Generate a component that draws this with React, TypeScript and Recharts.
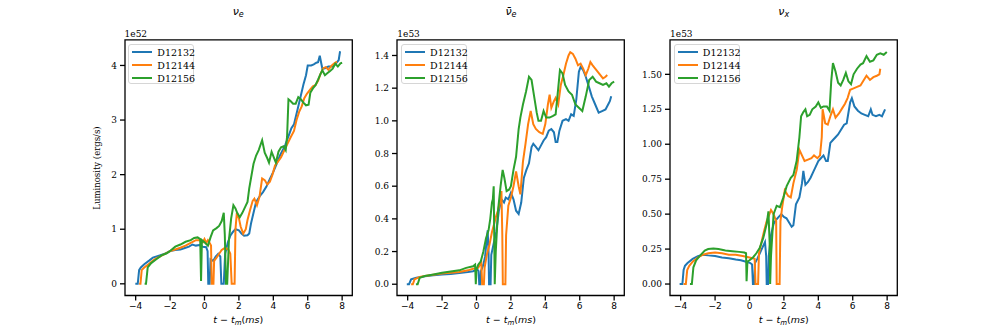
import React from 'react';
import { LineChart, Line, XAxis, YAxis, ReferenceArea } from 'recharts';

type Pt = [number, number];

const seriesNames = ['D12132', 'D12144', 'D12156'];
const seriesColors = ['#1f77b4', '#ff7f0e', '#2ca02c'];
const xTicks = [-4, -2, 0, 2, 4, 6, 8];
const xDomain: [number, number] = [-4.62, 8.59];

// nu_e luminosity (units of 1e52 erg/s)
const nueD12132: Pt[] = [[-4.02,0],[-3.88,0],[-3.8,0.25],[-3.7,0.3],[-3.5,0.36],[-3.2,0.43],[-3.0,0.48],[-2.6,0.52],[-2.3,0.55],[-2.0,0.6],[-1.7,0.62],[-1.4,0.63],[-1.1,0.66],[-0.9,0.68],[-0.7,0.72],[-0.5,0.7],[-0.3,0.71],[-0.1,0.68],[0.1,0.67],[0.18,0.6],[0.22,0],[0.3,0],[0.35,0.45],[0.5,0.42],[0.65,0.5],[0.8,0.55],[0.92,0.5],[0.98,0],[1.12,0],[1.2,0.55],[1.35,0.75],[1.5,0.88],[1.65,0.95],[1.8,1.0],[2.0,0.98],[2.15,0.92],[2.3,0.88],[2.5,0.89],[2.6,0.92],[2.7,1.1],[2.85,1.3],[3.0,1.5],[3.2,1.6],[3.4,1.68],[3.6,1.78],[3.8,1.92],[4.0,2.05],[4.2,2.2],[4.4,2.36],[4.55,2.45],[4.7,2.55],[4.9,2.72],[5.05,2.85],[5.2,2.92],[5.3,3.05],[5.45,3.25],[5.6,3.45],[5.75,3.65],[5.9,3.82],[6.0,4.0],[6.2,4.0],[6.35,4.02],[6.5,4.05],[6.6,4.06],[6.7,4.18],[6.78,4.05],[6.85,3.94],[7.0,3.95],[7.2,3.98],[7.4,3.98],[7.55,4.02],[7.7,4.06],[7.8,4.1],[7.88,4.26]];
const nueD12144: Pt[] = [[-3.8,0],[-3.72,0],[-3.65,0.25],[-3.5,0.3],[-3.2,0.37],[-2.9,0.45],[-2.6,0.5],[-2.3,0.55],[-2.0,0.6],[-1.7,0.63],[-1.4,0.66],[-1.1,0.7],[-0.8,0.75],[-0.5,0.8],[-0.3,0.8],[-0.1,0.76],[0.0,0.82],[0.1,0.75],[0.2,0.8],[0.3,0.75],[0.38,0.7],[0.42,0],[0.52,0],[0.56,0.42],[0.7,0.48],[0.85,0.55],[1.0,0.62],[1.2,0.66],[1.4,0.62],[1.5,0.55],[1.58,0],[1.75,0],[1.8,1.0],[1.88,1.3],[2.0,1.2],[2.1,1.05],[2.25,0.92],[2.4,1.0],[2.5,1.17],[2.65,1.35],[2.8,1.52],[2.9,1.56],[3.05,1.44],[3.2,1.6],[3.35,1.93],[3.5,1.9],[3.65,1.82],[3.8,1.87],[3.95,2.0],[4.1,2.17],[4.3,2.25],[4.45,2.32],[4.6,2.42],[4.8,2.55],[5.0,2.68],[5.2,2.8],[5.35,3.0],[5.5,3.15],[5.65,3.25],[5.8,3.4],[5.95,3.48],[6.15,3.56],[6.3,3.62],[6.45,3.64],[6.6,3.72],[6.75,3.85],[6.9,3.95],[7.05,3.97],[7.2,3.92],[7.4,4.0],[7.55,4.04],[7.7,4.07]];
const nueD12156: Pt[] = [[-3.48,0],[-3.4,0],[-3.3,0.3],[-3.1,0.38],[-2.8,0.45],[-2.5,0.52],[-2.2,0.56],[-2.0,0.6],[-1.7,0.68],[-1.4,0.72],[-1.1,0.77],[-0.8,0.8],[-0.6,0.84],[-0.4,0.85],[-0.25,0.82],[-0.2,0.05],[-0.15,0.8],[0.0,0.76],[0.2,0.7],[0.35,0.85],[0.5,0.98],[0.7,1.02],[0.85,1.06],[1.0,1.15],[1.12,1.3],[1.18,0.9],[1.25,0],[1.32,0],[1.42,0.8],[1.55,1.2],[1.68,1.44],[1.8,1.38],[1.9,1.3],[2.05,1.22],[2.2,1.3],[2.35,1.4],[2.5,1.5],[2.6,1.75],[2.7,1.93],[2.85,2.2],[3.0,2.35],[3.15,2.45],[3.35,2.63],[3.5,2.4],[3.65,2.3],[3.75,2.22],[3.9,2.42],[4.05,2.3],[4.15,2.22],[4.3,2.42],[4.45,2.5],[4.6,2.52],[4.72,2.45],[4.8,2.7],[4.88,3.38],[5.0,3.35],[5.15,3.3],[5.3,3.3],[5.45,3.42],[5.6,3.38],[5.75,3.32],[5.9,3.27],[6.05,3.28],[6.15,3.5],[6.3,3.58],[6.45,3.64],[6.6,3.74],[6.75,3.85],[6.85,3.91],[7.0,3.82],[7.15,3.86],[7.3,3.9],[7.45,3.94],[7.6,4.03],[7.75,3.98],[7.9,4.04],[8.0,4.05]];

// anti nu_e luminosity (units of 1e53 erg/s)
const anueD12132: Pt[] = [[-4.05,0],[-3.92,0],[-3.8,0.03],[-3.5,0.04],[-3.0,0.048],[-2.5,0.055],[-2.0,0.06],[-1.5,0.062],[-1.0,0.068],[-0.5,0.075],[-0.2,0.08],[0.05,0.09],[0.12,0.08],[0.16,0],[0.22,0],[0.26,0.08],[0.4,0.12],[0.5,0.17],[0.6,0.28],[0.65,0.33],[0.7,0.2],[0.73,0],[0.82,0],[0.86,0.18],[1.0,0.25],[1.15,0.32],[1.3,0.45],[1.45,0.52],[1.6,0.5],[1.7,0.53],[1.85,0.52],[2.0,0.56],[2.15,0.52],[2.3,0.45],[2.45,0.43],[2.6,0.5],[2.75,0.65],[2.9,0.7],[3.05,0.74],[3.2,0.84],[3.3,0.86],[3.45,0.84],[3.6,0.82],[3.75,0.85],[3.9,0.88],[4.05,0.9],[4.2,0.94],[4.35,0.95],[4.5,0.93],[4.6,0.87],[4.7,0.87],[4.82,0.94],[5.0,1.0],[5.2,1.01],[5.35,1.0],[5.5,1.04],[5.65,1.03],[5.8,1.13],[5.95,1.3],[6.05,1.33],[6.2,1.31],[6.35,1.27],[6.5,1.22],[6.7,1.15],[6.9,1.1],[7.1,1.05],[7.3,1.06],[7.5,1.07],[7.65,1.1],[7.75,1.12],[7.83,1.15]];
const anueD12144: Pt[] = [[-3.8,0],[-3.7,0],[-3.6,0.03],[-3.3,0.045],[-3.0,0.05],[-2.5,0.058],[-2.0,0.065],[-1.5,0.07],[-1.0,0.075],[-0.5,0.085],[-0.2,0.095],[0.1,0.1],[0.2,0.12],[0.28,0.13],[0.33,0],[0.43,0],[0.47,0.1],[0.6,0.18],[0.75,0.24],[0.9,0.32],[1.05,0.38],[1.15,0.42],[1.25,0.45],[1.35,0.5],[1.45,0.57],[1.5,0.3],[1.53,0],[1.68,0],[1.72,0.3],[1.85,0.48],[2.0,0.53],[2.15,0.6],[2.3,0.69],[2.45,0.6],[2.55,0.55],[2.7,0.75],[2.85,0.86],[3.0,0.98],[3.15,1.06],[3.3,0.98],[3.45,0.95],[3.65,0.93],[3.85,0.92],[4.0,0.98],[4.15,1.1],[4.25,1.16],[4.35,1.08],[4.5,1.12],[4.6,1.14],[4.75,1.1],[4.9,1.22],[5.05,1.28],[5.2,1.35],[5.35,1.4],[5.45,1.42],[5.6,1.41],[5.75,1.38],[5.9,1.34],[6.05,1.35],[6.2,1.32],[6.35,1.28],[6.5,1.32],[6.62,1.36],[6.75,1.34],[6.9,1.32],[7.05,1.3],[7.2,1.28],[7.35,1.26],[7.5,1.27],[7.6,1.28]];
const anueD12156: Pt[] = [[-3.52,0],[-3.42,0],[-3.3,0.04],[-3.0,0.05],[-2.5,0.06],[-2.0,0.07],[-1.5,0.078],[-1.0,0.085],[-0.6,0.1],[-0.2,0.11],[-0.08,0.12],[-0.04,0],[0.0,0.09],[0.1,0.12],[0.25,0.14],[0.4,0.2],[0.55,0.28],[0.7,0.33],[0.8,0.4],[0.9,0.5],[0.95,0.52],[1.0,0.6],[1.03,0.3],[1.06,0],[1.12,0.2],[1.25,0.45],[1.4,0.6],[1.52,0.7],[1.62,0.65],[1.75,0.57],[1.9,0.58],[2.0,0.6],[2.15,0.7],[2.3,0.78],[2.45,0.95],[2.55,1.02],[2.7,1.1],[2.88,1.18],[3.05,1.27],[3.2,1.25],[3.35,1.15],[3.5,1.05],[3.6,1.0],[3.75,1.0],[3.9,1.06],[4.05,1.02],[4.25,1.02],[4.45,1.03],[4.6,1.04],[4.75,1.2],[4.85,1.31],[5.0,1.29],[5.15,1.22],[5.35,1.18],[5.55,1.16],[5.75,1.1],[5.95,1.08],[6.15,1.06],[6.35,1.15],[6.55,1.25],[6.75,1.27],[6.95,1.24],[7.15,1.23],[7.35,1.22],[7.55,1.23],[7.7,1.21],[7.85,1.23],[8.0,1.24]];

// nu_x luminosity (units of 1e53 erg/s)
const nuxD12132: Pt[] = [[-4.06,0],[-3.9,0],[-3.83,0.1],[-3.75,0.13],[-3.6,0.15],[-3.3,0.18],[-3.0,0.2],[-2.7,0.21],[-2.4,0.205],[-2.0,0.2],[-1.6,0.19],[-1.2,0.185],[-0.8,0.175],[-0.5,0.17],[-0.2,0.16],[0.05,0.15],[0.15,0.14],[0.2,0],[0.28,0],[0.32,0.15],[0.45,0.18],[0.6,0.22],[0.75,0.26],[0.9,0.3],[0.97,0.2],[1.0,0],[1.08,0],[1.12,0.2],[1.25,0.35],[1.4,0.43],[1.55,0.46],[1.7,0.48],[1.85,0.5],[2.0,0.48],[2.15,0.47],[2.3,0.44],[2.45,0.41],[2.55,0.42],[2.7,0.57],[2.9,0.62],[3.05,0.72],[3.13,0.81],[3.25,0.71],[3.4,0.73],[3.55,0.76],[3.7,0.8],[3.85,0.84],[4.0,0.88],[4.15,0.9],[4.3,0.92],[4.45,0.88],[4.55,0.88],[4.7,1.01],[4.85,1.03],[5.0,1.05],[5.15,1.07],[5.3,1.1],[5.5,1.14],[5.65,1.15],[5.85,1.3],[5.95,1.33],[6.1,1.27],[6.3,1.24],[6.5,1.22],[6.7,1.21],[6.9,1.2],[7.05,1.25],[7.15,1.21],[7.35,1.2],[7.55,1.21],[7.7,1.2],[7.88,1.25]];
const nuxD12144: Pt[] = [[-3.83,0],[-3.7,0],[-3.62,0.1],[-3.5,0.13],[-3.3,0.16],[-3.0,0.19],[-2.7,0.21],[-2.4,0.22],[-2.0,0.225],[-1.6,0.22],[-1.2,0.21],[-0.8,0.21],[-0.4,0.2],[0.0,0.19],[0.3,0.18],[0.35,0],[0.5,0],[0.55,0.22],[0.7,0.3],[0.85,0.38],[1.0,0.45],[1.1,0.48],[1.25,0.53],[1.4,0.5],[1.55,0.45],[1.58,0],[1.75,0],[1.8,0.45],[1.9,0.55],[2.05,0.67],[2.25,0.63],[2.4,0.62],[2.55,0.72],[2.75,0.82],[2.9,0.96],[3.05,0.92],[3.2,0.88],[3.4,0.89],[3.6,0.9],[3.75,0.92],[3.95,0.9],[4.1,0.92],[4.2,1.05],[4.25,1.25],[4.4,1.15],[4.55,1.14],[4.7,1.2],[4.85,1.25],[5.0,1.19],[5.2,1.22],[5.4,1.26],[5.55,1.29],[5.7,1.33],[5.85,1.39],[6.05,1.4],[6.25,1.41],[6.45,1.42],[6.6,1.45],[6.8,1.49],[7.0,1.46],[7.2,1.48],[7.4,1.49],[7.55,1.5],[7.6,1.54]];
const nuxD12156: Pt[] = [[-3.46,0],[-3.35,0],[-3.26,0.12],[-3.1,0.17],[-2.9,0.2],[-2.6,0.24],[-2.4,0.25],[-2.1,0.255],[-1.8,0.25],[-1.4,0.24],[-1.0,0.235],[-0.6,0.23],[-0.3,0.225],[-0.2,0.22],[-0.17,0.02],[-0.12,0.16],[0.0,0.17],[0.2,0.19],[0.4,0.22],[0.6,0.26],[0.8,0.33],[1.0,0.43],[1.1,0.52],[1.17,0.3],[1.2,0],[1.25,0.2],[1.4,0.5],[1.58,0.56],[1.77,0.55],[1.97,0.62],[2.16,0.7],[2.4,0.76],[2.55,0.78],[2.74,0.88],[2.9,1.05],[3.0,1.2],[3.13,1.23],[3.25,1.25],[3.35,1.2],[3.5,1.21],[3.65,1.25],[3.85,1.27],[4.0,1.3],[4.15,1.26],[4.3,1.27],[4.5,1.27],[4.65,1.24],[4.75,1.45],[4.85,1.58],[5.0,1.52],[5.15,1.44],[5.3,1.42],[5.45,1.46],[5.6,1.51],[5.75,1.45],[5.9,1.43],[6.05,1.5],[6.25,1.54],[6.45,1.57],[6.6,1.58],[6.8,1.63],[7.0,1.59],[7.2,1.6],[7.4,1.64],[7.6,1.65],[7.8,1.64],[7.98,1.66]];

const nueTicks = [0, 1, 2, 3, 4];
const anueTicks = [0, 0.2, 0.4, 0.6, 0.8, 1.0, 1.2, 1.4];
const nuxTicks = [0, 0.25, 0.5, 0.75, 1.0, 1.25, 1.5];

const PLOT_LEFT0 = 124.6;
const PLOT_STEP = 272.75;
const PLOT_W = 227.3;
const PLOT_TOP = 39.8;
const PLOT_H = 255.7;
const FIG_H = 332;
const YAXIS_W = 60;
const RIGHT_PAD = 6;

const minus = (v: number, d: number) => {
  const s = Math.abs(v).toFixed(d);
  return v < 0 ? '\u2212' + s : s;
};

type PanelProps = {
  index: number;
  title: React.ReactNode;
  offsetText: string;
  yTicks: number[];
  yDomain: [number, number];
  yDecimals: number;
  series: Pt[][];
};

function Panel({ index, title, offsetText, yTicks, yDomain, yDecimals, series }: PanelProps) {
  const plotLeft = PLOT_LEFT0 + index * PLOT_STEP;
  const chartLeft = plotLeft - YAXIS_W;
  const xAxisH = FIG_H - PLOT_TOP - PLOT_H;
  return (
    <>
      <div style={{ position: 'absolute', left: chartLeft, top: 0 }}>
        <LineChart
          width={YAXIS_W + PLOT_W + RIGHT_PAD}
          height={FIG_H}
          margin={{ top: PLOT_TOP, right: RIGHT_PAD, bottom: 0, left: 0 }}
        >
          <XAxis
            type="number"
            dataKey="t"
            domain={xDomain}
            ticks={xTicks}
            allowDataOverflow
            height={xAxisH}
            axisLine={false}
            tickLine={{ stroke: '#000', strokeWidth: 1.3 }}
            tickSize={5}
            tickMargin={2}
            tick={{ fontSize: 9, fill: '#000', fontFamily: 'DejaVu Sans' }}
            tickFormatter={(v: number) => minus(v, 0)}
            interval={0}
          />
          <YAxis
            type="number"
            domain={yDomain}
            ticks={yTicks}
            allowDataOverflow
            width={YAXIS_W}
            axisLine={false}
            tickLine={{ stroke: '#000', strokeWidth: 1.3 }}
            tickSize={5}
            tickMargin={3}
            tick={{ fontSize: 9, fill: '#000', fontFamily: 'DejaVu Serif' }}
            tickFormatter={(v: number) => minus(v, yDecimals)}
            interval={0}
          />
          {series.map((pts, i) => (
            <Line
              key={seriesNames[i]}
              data={pts.map(([t, v]) => ({ t, v }))}
              dataKey="v"
              name={seriesNames[i]}
              stroke={seriesColors[i]}
              strokeWidth={2}
              dot={false}
              activeDot={false}
              type="linear"
              isAnimationActive={false}
            />
          ))}
          <ReferenceArea
            x1={xDomain[0]}
            x2={xDomain[1]}
            y1={yDomain[0]}
            y2={yDomain[1]}
            fill="none"
            fillOpacity={0}
            stroke="#000"
            strokeWidth={1.3}
            ifOverflow="visible"
          />
        </LineChart>
      </div>
      <div
        style={{
          position: 'absolute',
          left: plotLeft,
          width: PLOT_W,
          top: 5,
          textAlign: 'center',
          fontFamily: 'DejaVu Sans',
          fontSize: 11,
          lineHeight: '14px',
          color: '#000',
        }}
      >
        {title}
      </div>
      <div
        style={{
          position: 'absolute',
          left: plotLeft,
          top: 29,
          fontFamily: 'DejaVu Serif',
          fontSize: 9,
          lineHeight: '11px',
          color: '#000',
        }}
      >
        {offsetText}
      </div>
      <div
        style={{
          position: 'absolute',
          left: plotLeft,
          width: PLOT_W,
          top: 314,
          textAlign: 'center',
          fontFamily: 'DejaVu Sans',
          fontSize: 9.5,
          lineHeight: '12px',
          color: '#000',
        }}
      >
        <i>t</i> {'\u2212'} <i>t</i>
        <sub style={{ fontSize: 7, verticalAlign: 'baseline', position: 'relative', top: 2 }}>
          <i>m</i>
        </sub>
        (<i>ms</i>)
      </div>
      <div
        style={{
          position: 'absolute',
          left: plotLeft + 3.7,
          top: PLOT_TOP + 4.2,
          width: 66,
          height: 40,
          border: '1px solid #d6d6d6',
          borderRadius: 3,
          background: 'rgba(255,255,255,0.8)',
          boxSizing: 'border-box',
        }}
      >
        {seriesNames.map((n, i) => (
          <div
            key={n}
            style={{
              position: 'absolute',
              left: 0,
              top: 1 + i * 12.9,
              height: 12.9,
              display: 'flex',
              alignItems: 'center',
            }}
          >
            <div style={{ marginLeft: 3, width: 20, height: 2, background: seriesColors[i] }} />
            <span
              style={{
                marginLeft: 5,
                fontFamily: 'DejaVu Serif',
                fontSize: 9.5,
                color: '#000',
                whiteSpace: 'nowrap',
              }}
            >
              {n}
            </span>
          </div>
        ))}
      </div>
    </>
  );
}

export default function App() {
  return (
    <div
      style={{
        position: 'absolute',
        left: 0,
        top: 0,
        width: 997,
        height: 332,
        background: '#fff',
        overflow: 'hidden',
      }}
    >
      <Panel
        index={0}
        title={
          <span>
            <i>ν</i>
            <sub style={{ fontSize: 8, verticalAlign: 'baseline', position: 'relative', top: 2 }}>
              <i>e</i>
            </sub>
          </span>
        }
        offsetText="1e52"
        yTicks={nueTicks}
        yDomain={[-0.214, 4.47]}
        yDecimals={0}
        series={[nueD12132, nueD12144, nueD12156]}
      />
      <Panel
        index={1}
        title={
          <span>
            <i>ν̄</i>
            <sub style={{ fontSize: 8, verticalAlign: 'baseline', position: 'relative', top: 2 }}>
              <i>e</i>
            </sub>
          </span>
        }
        offsetText="1e53"
        yTicks={anueTicks}
        yDomain={[-0.069, 1.496]}
        yDecimals={1}
        series={[anueD12132, anueD12144, anueD12156]}
      />
      <Panel
        index={2}
        title={
          <span>
            <i>ν</i>
            <sub style={{ fontSize: 8, verticalAlign: 'baseline', position: 'relative', top: 2 }}>
              <i>x</i>
            </sub>
          </span>
        }
        offsetText="1e53"
        yTicks={nuxTicks}
        yDomain={[-0.082, 1.747]}
        yDecimals={2}
        series={[nuxD12132, nuxD12144, nuxD12156]}
      />
      <div
        style={{
          position: 'absolute',
          left: 96.5,
          top: PLOT_TOP + PLOT_H / 2,
          transform: 'translate(-50%, -50%) rotate(-90deg)',
          fontFamily: 'DejaVu Serif',
          fontSize: 8.5,
          whiteSpace: 'nowrap',
          color: '#000',
        }}
      >
        Luminosity (ergs/s)
      </div>
    </div>
  );
}
